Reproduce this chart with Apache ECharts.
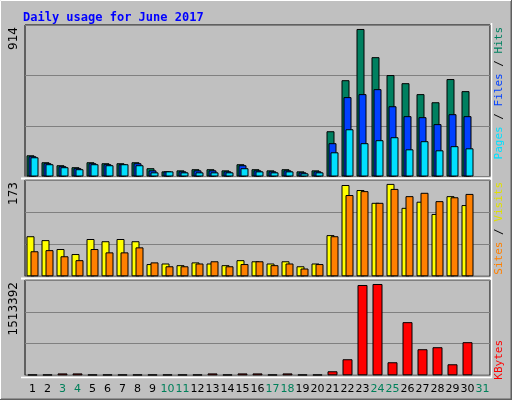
<!DOCTYPE html>
<html><head><meta charset="utf-8">
<script src="https://cdn.jsdelivr.net/npm/echarts@6/dist/echarts.min.js"></script>
<style>html,body{margin:0;padding:0;background:#c0c0c0}#chart{width:512px;height:400px}</style>
</head><body><div id="chart"></div>
<script>
// 数据
const days = Array.from({length: 31}, (_, i) => String(i + 1));
const weekendDays = ['3','4','10','11','17','18','24','25','31'];
const hits  = [128,86,68,56,86,80,80,86,50,31,37,44,44,37,74,44,37,44,31,37,273,581,890,720,612,563,497,448,588,515,null];
const files = [122,80,62,50,80,74,74,80,37,31,31,37,37,31,68,37,31,37,25,31,201,479,497,527,424,364,358,316,376,364,null];
const pages = [116,74,56,44,74,68,74,68,25,31,25,25,25,25,50,31,25,31,19,25,146,285,201,219,237,164,213,158,183,170,null];
const visits = [72,65,49,40,67,63,67,63,22,23,20,25,23,20,29,27,23,27,18,23,74,164,155,132,166,123,134,112,144,128,null];
const sites  = [45,47,36,29,49,43,43,52,25,18,18,23,27,18,22,27,20,23,14,22,72,146,153,132,157,144,150,135,142,148,null];
const kbytes = [12000,12000,30000,30000,12000,12000,12000,12000,12000,12000,12000,12000,30000,12000,30000,30000,12000,30000,12000,12000,64000,255000,1434000,1450000,207000,844000,414000,446000,175000,526000,null];
const maxHits = 914, maxVisits = 173, maxKB = 1513392;

const chart = echarts.init(document.getElementById('chart'));
const L = 25, R = 22;
const grids = [
  {left: L, right: R, top: 25, height: 151.5},
  {left: L, right: R, top: 180, height: 96.3},
  {left: L, right: R, top: 280, height: 95.3}
];
function xAx(i, show) {
  return {
    type: 'category', data: days, gridIndex: i,
    axisLine: {show: false}, axisTick: {show: false},
    axisLabel: show ? {
      show: true, interval: 0, margin: 8, fontSize: 11, fontFamily: 'DejaVu Sans',
      color: v => weekendDays.includes(v) ? '#00805a' : '#000'
    } : {show: false}
  };
}
function yAx(i, max) {
  return {
    type: 'value', gridIndex: i, min: 0, max: max, interval: max / 3,
    axisLabel: {show: false}, axisLine: {show: false}, axisTick: {show: false},
    splitLine: {lineStyle: {color: '#808080', width: 1}}
  };
}
const bs = c => ({color: c, borderColor: '#000', borderWidth: 1});
function vText(x, y, val) {
  return {type: 'text', x: x, y: y, rotation: Math.PI / 2,
    style: {text: String(val), fill: '#000', font: '12px DejaVu Sans', align: 'right', verticalAlign: 'middle'}};
}
function legend(x, y, parts) {
  // parts: [text, color] 从下往上
  return {type: 'text', x: x, y: y, rotation: Math.PI / 2,
    style: {text: parts.map((p, i) => `{s${i}|${p[0]}}`).join(''), align: 'right', verticalAlign: 'middle',
      rich: Object.fromEntries(parts.map((p, i) => [`s${i}`, {fill: p[1], font: '11px DejaVu Sans Mono'}]))}};
}

chart.setOption({
  backgroundColor: '#c0c0c0',
  animation: false,
  title: {text: 'Daily usage for June 2017', left: 18, top: 7,
    textStyle: {color: '#0000ff', fontSize: 12, fontWeight: 'bold', fontFamily: 'DejaVu Sans Mono'}},
  grid: grids.map(g => ({...g, show: true, backgroundColor: '#c0c0c0', borderColor: '#000', borderWidth: 1})),
  xAxis: [xAx(0, false), xAx(1, false), xAx(2, true)],
  yAxis: [yAx(0, maxHits), yAx(1, maxVisits), yAx(2, maxKB)],
  series: [
    {type: 'bar', name: 'Hits', data: hits, xAxisIndex: 0, yAxisIndex: 0, barWidth: 8, barGap: '-75%', itemStyle: bs('#008060')},
    {type: 'bar', name: 'Files', data: files, xAxisIndex: 0, yAxisIndex: 0, barWidth: 8, barGap: '-75%', itemStyle: bs('#0040ff')},
    {type: 'bar', name: 'Pages', data: pages, xAxisIndex: 0, yAxisIndex: 0, barWidth: 8, barGap: '-75%', itemStyle: bs('#00e0ff')},
    {type: 'bar', name: 'Visits', data: visits, xAxisIndex: 1, yAxisIndex: 1, barWidth: 8, barGap: '-50%', itemStyle: bs('#ffff00')},
    {type: 'bar', name: 'Sites', data: sites, xAxisIndex: 1, yAxisIndex: 1, barWidth: 8, barGap: '-50%', itemStyle: bs('#ff8000')},
    {type: 'bar', name: 'KBytes', data: kbytes, xAxisIndex: 2, yAxisIndex: 2, barWidth: 10, itemStyle: bs('#ff0000')}
  ],
  graphic: [
    {type: 'polyline', shape: {points: [[0, 399.5], [511.5, 399.5], [511.5, 0]]}, style: {stroke: '#606060', lineWidth: 2, fill: null}},
    {type: 'polyline', shape: {points: [[0.5, 399], [0.5, 0.5], [511, 0.5]]}, style: {stroke: '#ffffff', lineWidth: 1, fill: null}},
    {type: 'polyline', shape: {points: [[21, 377.5], [491.5, 377.5], [491.5, 23]]}, style: {stroke: '#ffffff', lineWidth: 1.5, fill: null}},
    {type: 'line', shape: {x1: 21, y1: 178.5, x2: 491, y2: 178.5}, style: {stroke: '#ffffff', lineWidth: 2}},
    {type: 'line', shape: {x1: 21, y1: 278.5, x2: 491, y2: 278.5}, style: {stroke: '#ffffff', lineWidth: 2}},
    vText(14, 27, maxHits),
    vText(14, 182, maxVisits),
    vText(14, 282, maxKB),
    legend(499, 27, [['Pages', '#00e0ff'], [' / ', '#000'], ['Files', '#0040ff'], [' / ', '#000'], ['Hits', '#008060']]),
    legend(499, 182, [['Sites', '#ff8000'], [' / ', '#000'], ['Visits', '#e0e000']]),
    legend(499, 340, [['KBytes', '#ff0000']])
  ]
});
</script></body></html>
